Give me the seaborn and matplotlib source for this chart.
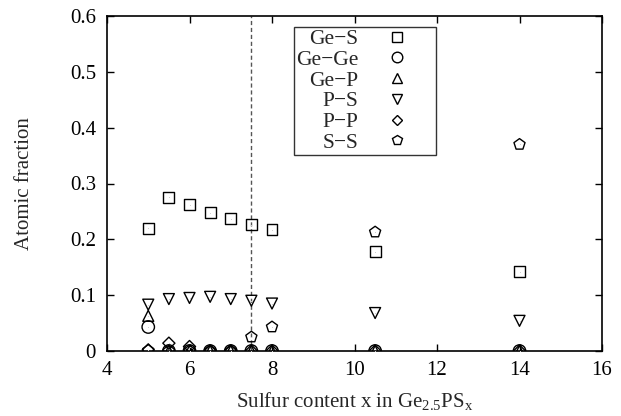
import matplotlib
matplotlib.use("Agg")
import matplotlib.pyplot as plt
import seaborn as sns
import pandas as pd
from matplotlib.lines import Line2D

x_vals = [5.0, 5.5, 6.0, 6.5, 7.0, 7.5, 8.0, 10.5, 14.0]
ge_s = [0.220, 0.275, 0.262, 0.248, 0.237, 0.226, 0.217, 0.178, 0.142]
ge_ge = [0.043, 0.0, 0.0, 0.0, 0.0, 0.0, 0.0, 0.0, 0.0]
ge_p = [0.063, 0.0, 0.0, 0.0, 0.0, 0.0, 0.0, 0.0, 0.0]
p_s = [0.083, 0.093, 0.095, 0.097, 0.093, 0.090, 0.085, 0.068, 0.054]
p_p = [0.002, 0.014, 0.008, 0.0, 0.0, 0.0, 0.0, 0.0, 0.0]
s_s = [0.001, 0.0, 0.0, 0.0, 0.0, 0.025, 0.043, 0.213, 0.370]

series_names = ["Ge\u2212S", "Ge\u2212Ge", "Ge\u2212P", "P\u2212S", "P\u2212P", "S\u2212S"]
series_values = [ge_s, ge_ge, ge_p, p_s, p_p, s_s]
series_markers = ["s", "o", "^", "v", "D", "p"]
series_sizes = [62, 80, 62, 62, 38, 70]

x_ticks = [4, 6, 8, 10, 12, 14, 16]
y_ticks = [0, 0.1, 0.2, 0.3, 0.4, 0.5, 0.6]
y_tick_labels = ["0", "0.1", "0.2", "0.3", "0.4", "0.5", "0.6"]
vline_x = 7.5

sns.set_style("ticks")
plt.rcParams["font.family"] = ["Liberation Serif", "DejaVu Serif"]
plt.rcParams["mathtext.fontset"] = "custom"
plt.rcParams["mathtext.rm"] = "Liberation Serif"

fig = plt.figure(figsize=(6.21, 4.16), dpi=100)
ax = fig.add_axes([107 / 621, 1 - 351 / 416, 495 / 621, 335 / 416])

rows = []
for name, vals in zip(series_names, series_values):
    for xv, yv in zip(x_vals, vals):
        rows.append({"x": xv, "y": yv, "series": name})
df = pd.DataFrame(rows)

ax.axvline(vline_x, color="#555555", linestyle=(0, (3, 2)), linewidth=1.0, zorder=1)

handles = []
for name, m, s in zip(series_names, series_markers, series_sizes):
    sub = df[df["series"] == name]
    sns.scatterplot(data=sub, x="x", y="y", marker=m, s=s, facecolors="none",
                    edgecolor="black", linewidth=1.0, ax=ax, zorder=3, legend=False)
    sns.scatterplot(data=sub, x="x", y="y", marker=".", s=2, color="black",
                    linewidth=0, ax=ax, zorder=4, legend=False)
    handles.append(Line2D([], [], linestyle="none", marker=m, markersize=(s ** 0.5) * 0.85,
                          markerfacecolor="none", markeredgecolor="black", markeredgewidth=1.0,
                          label=name))

ax.set_xlim(4, 16)
ax.set_ylim(0, 0.6)
ax.set_xticks(x_ticks)
ax.set_yticks(y_ticks)
ax.set_yticklabels(y_tick_labels)
ax.tick_params(direction="in", top=True, right=True, labelsize=15, length=5, width=1,
               colors="black")
ax.tick_params(axis="x", pad=7)
ax.tick_params(axis="y", pad=8)
for sp in ax.spines.values():
    sp.set_visible(True)
    sp.set_linewidth(1.2)
    sp.set_color("black")

ax.set_xlabel(r"Sulfur content x in Ge$_\mathregular{2.5}$PS$_\mathregular{x}$", fontsize=15, labelpad=8)
ax.set_ylabel("Atomic fraction", fontsize=15, labelpad=26)

leg = ax.legend(handles=handles, loc="upper left", bbox_to_anchor=(0.378, 0.967),
                markerfirst=False, frameon=True, fancybox=False, edgecolor="black",
                fontsize=15.5, handlelength=3.4, handletextpad=0.1, borderpad=0.1,
                labelspacing=0.03, borderaxespad=0)
leg.get_frame().set_linewidth(1.0)
leg._legend_box.align = "right"

fig.savefig("out.png", dpi=100)
